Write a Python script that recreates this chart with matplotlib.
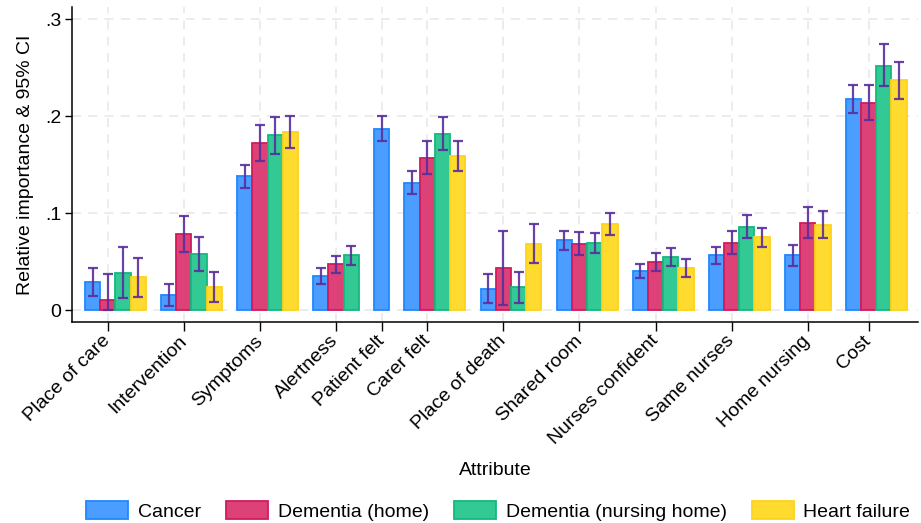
import numpy as np
import matplotlib
matplotlib.use("Agg")
from matplotlib import pyplot as plt
from matplotlib.patches import Patch

plt.rcParams['font.family'] = ['Liberation Sans', 'DejaVu Sans']

attributes = [
    'Place of care', 'Intervention', 'Symptoms', 'Alertness', 'Patient felt',
    'Carer felt', 'Place of death', 'Shared room', 'Nurses confident',
    'Same nurses', 'Home nursing', 'Cost',
]
groups = ['Cancer', 'Dementia (home)', 'Dementia (nursing home)', 'Heart failure']

nan = np.nan
# relative importance, lower and upper 95% CI, one list per group
cancer = [0.0286, 0.0152, 0.1380, 0.0348, 0.1871, 0.1307,
          0.0220, 0.0719, 0.0399, 0.0564, 0.0564, 0.2174]
cancer_lo = [0.0148, 0.0041, 0.1259, 0.0268, 0.1744, 0.1194,
             0.0076, 0.0623, 0.0330, 0.0478, 0.0454, 0.2033]
cancer_hi = [0.0437, 0.0268, 0.1500, 0.0437, 0.2002, 0.1431,
             0.0368, 0.0812, 0.0478, 0.0647, 0.0671, 0.2322]

dem_home = [0.0100, 0.0781, 0.1720, 0.0472, nan, 0.1572,
            0.0430, 0.0684, 0.0499, 0.0695, 0.0901, 0.2140]
dem_home_lo = [-0.0003, 0.0599, 0.1535, 0.0382, nan, 0.1407,
               0.0052, 0.0564, 0.0406, 0.0581, 0.0743, 0.1961]
dem_home_hi = [0.0372, 0.0970, 0.1906, 0.0560, nan, 0.1744,
               0.0815, 0.0805, 0.0592, 0.0812, 0.1063, 0.2319]

dem_nh = [0.0379, 0.0575, 0.1803, 0.0564, nan, 0.1813,
          0.0234, 0.0688, 0.0544, 0.0860, nan, 0.2521]
dem_nh_lo = [0.0121, 0.0406, 0.1610, 0.0468, nan, 0.1648,
             0.0076, 0.0585, 0.0457, 0.0740, nan, 0.2312]
dem_nh_hi = [0.0647, 0.0750, 0.1989, 0.0664, nan, 0.1992,
             0.0389, 0.0798, 0.0640, 0.0984, nan, 0.2745]

heart = [0.0341, 0.0237, 0.1837, nan, nan, 0.1589,
         0.0684, 0.0884, 0.0430, 0.0750, 0.0880, 0.2370]
heart_lo = [0.0137, 0.0086, 0.1672, nan, nan, 0.1431,
            0.0482, 0.0774, 0.0344, 0.0650, 0.0746, 0.2181]
heart_hi = [0.0540, 0.0389, 0.2002, nan, nan, 0.1744,
            0.0888, 0.1001, 0.0526, 0.0849, 0.1019, 0.2556]

est = np.array([cancer, dem_home, dem_nh, heart])
lo = np.array([cancer_lo, dem_home_lo, dem_nh_lo, heart_lo])
hi = np.array([cancer_hi, dem_home_hi, dem_nh_hi, heart_hi])

fills = ['#4b9dff', '#dc4277', '#33c995', '#ffdb30']
edges = ['#1f88ff', '#d21b5a', '#14b97c', '#ffd21b']
ci_col = '#5a2e9d'
fs = 14

fig = plt.figure(figsize=(9.21, 5.23), dpi=100)
ax = fig.add_axes([0.0785, 0.3837, 0.918, 0.6029])

# bars sit side by side, missing groups are dropped, one empty slot between attributes
pos = 0
ticks = []
for j in range(len(attributes)):
    present = [i for i in range(len(groups)) if not np.isnan(est[i, j])]
    ticks.append(pos + (len(present) - 1) // 2)
    for i in present:
        ax.bar(pos, est[i, j], width=1.0, color=fills[i], edgecolor=edges[i],
               linewidth=1.3, zorder=2)
        ax.errorbar(pos, est[i, j],
                    yerr=[[est[i, j] - lo[i, j]], [hi[i, j] - est[i, j]]],
                    fmt='none', ecolor=ci_col, elinewidth=1.6, capsize=3.4,
                    capthick=1.6, alpha=0.9, zorder=3)
        pos += 1
    pos += 1

ax.set_xlim(-1.33, 54.23)
ax.set_ylim(-0.0127, 0.3127)

ax.set_xticks(ticks)
ax.set_xticklabels(attributes, rotation=45, ha='right', va='center',
                   rotation_mode='anchor', fontsize=fs)
ax.set_yticks([0, 0.1, 0.2, 0.3])
ax.set_yticklabels(['0', '.1', '.2', '.3'], fontsize=fs)
ax.tick_params(axis='x', length=6.5, width=1, pad=5)
ax.tick_params(axis='y', length=5, width=1, pad=3)

ax.grid(True, color='#ebebeb', linestyle=(0, (5, 4)), linewidth=1.3, zorder=0)
ax.set_axisbelow(True)
for side in ['top', 'right']:
    ax.spines[side].set_visible(False)
ax.spines['left'].set_linewidth(1.1)
ax.spines['bottom'].set_linewidth(1.1)

ax.set_xlabel('Attribute', fontsize=fs, labelpad=10)
ax.set_ylabel('Relative importance & 95% CI', fontsize=fs, labelpad=8)

handles = [Patch(facecolor=fills[i], edgecolor=edges[i], linewidth=1.3)
           for i in range(len(groups))]
fig.legend(handles, groups, loc='lower center', bbox_to_anchor=(0.541, -0.029),
           ncol=4, frameon=False, fontsize=fs, handlelength=2.15,
           handleheight=1.0, handletextpad=0.5, columnspacing=1.3)

fig.savefig('out.png', dpi=100)
